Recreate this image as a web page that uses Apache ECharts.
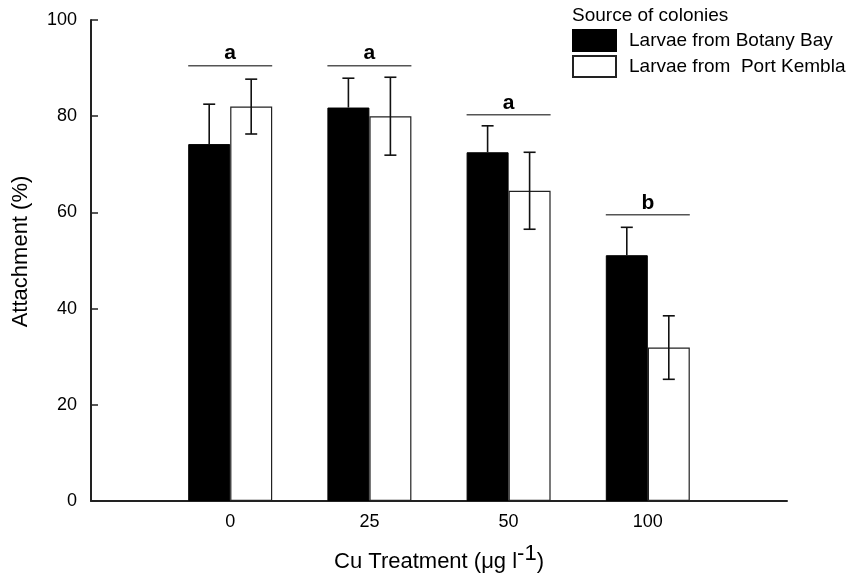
<!DOCTYPE html>
<html>
<head>
<meta charset="utf-8">
<script src="https://cdn.jsdelivr.net/npm/echarts@6/dist/echarts.min.js"></script>
<style>
  html, body { margin: 0; padding: 0; background: #fff; }
  #chart { width: 859px; height: 580px; }
</style>
</head>
<body>
<div id="chart"></div>
<script>
// data
const treatments = ['0', '25', '50', '100'];
const botanyMean = [74.2, 81.8, 72.5, 51.1];
const botanyErr = [8.3, 6.1, 5.5, 5.8];
const kemblaMean = [82.0, 80.0, 64.5, 31.9];
const kemblaErr = [5.7, 8.1, 8.0, 6.6];
const sigLetters = ['a', 'a', 'a', 'b'];
const sigHeights = [90.5, 90.5, 80.3, 59.5];
const yTicks = [0, 20, 40, 60, 80, 100];

const FONT = 'Liberation Sans, Arial, sans-serif';
const chart = echarts.init(document.getElementById('chart'));

// empty slot on both ends so the four groups sit like in the figure
const categories = [''].concat(treatments, ['']);
const pad = arr => ['-'].concat(arr, ['-']);

function errData(mean, err) {
    return mean.map((m, i) => [i + 1, m, err[i]]);
}

// upperOnly: on the black bars only the top half shows
function errorBars(offset, upperOnly) {
    return function (params, api) {
        const mid = api.coord([api.value(0), api.value(1)]);
        const hi = api.coord([api.value(0), api.value(1) + api.value(2)]);
        const lo = api.coord([api.value(0), api.value(1) - api.value(2)]);
        const x = mid[0] + offset;
        const style = { stroke: '#111', lineWidth: 1.6 };
        const kids = [
            { type: 'line', shape: { x1: x, y1: hi[1], x2: x, y2: upperOnly ? mid[1] : lo[1] }, style: style },
            { type: 'line', shape: { x1: x - 6, y1: hi[1], x2: x + 6, y2: hi[1] }, style: style }
        ];
        if (!upperOnly) {
            kids.push({ type: 'line', shape: { x1: x - 6, y1: lo[1], x2: x + 6, y2: lo[1] }, style: style });
        }
        return { type: 'group', children: kids };
    };
}

const option = {
    animation: false,
    backgroundColor: '#fff',
    textStyle: { fontFamily: FONT, color: '#000' },
    title: {
        text: 'Source of colonies',
        left: 572,
        top: 6,
        padding: 0,
        textStyle: { fontSize: 19, fontWeight: 'normal', color: '#000', fontFamily: FONT }
    },
    legend: {
        orient: 'vertical',
        left: 572,
        top: 29,
        padding: 0,
        itemWidth: 43,
        itemHeight: 21,
        itemGap: 3,
        icon: 'rect',
        textStyle: { fontSize: 19, lineHeight: 21, color: '#000', padding: [0, 0, 0, 8], fontFamily: FONT },
        data: ['Larvae from Botany Bay', 'Larvae from  Port Kembla']
    },
    grid: { left: 91, right: 72, top: 20, bottom: 79, containLabel: false, outerBoundsMode: 'none' },
    xAxis: {
        type: 'category',
        data: categories,
        boundaryGap: false,
        axisLine: { lineStyle: { color: '#222', width: 2 } },
        axisTick: { show: false },
        axisLabel: { fontSize: 18, color: '#000', margin: 12 },
        name: 'Cu Treatment (μg l{sup|-1})',
        nameLocation: 'middle',
        nameGap: 42,
        nameTextStyle: {
            fontSize: 22, color: '#000',
            rich: { sup: { fontSize: 22, color: '#000', verticalAlign: 'bottom', padding: [0, 0, 15, 0] } }
        }
    },
    yAxis: {
        type: 'value',
        min: 0,
        max: 100,
        interval: 20,
        axisLine: { show: true, lineStyle: { color: '#222', width: 2 } },
        axisTick: { show: true, inside: true, length: 7, lineStyle: { color: '#222', width: 1.5 } },
        axisLabel: {
            fontSize: 18, color: '#000', margin: 14,
            formatter: v => yTicks.indexOf(v) >= 0 ? String(v) : ''
        },
        splitLine: { show: false },
        name: 'Attachment (%)',
        nameLocation: 'middle',
        nameGap: 59,
        nameTextStyle: { fontSize: 22, color: '#000', padding: [0, 0, 0, 18] }
    },
    series: [
        {
            name: 'Larvae from Botany Bay',
            type: 'bar',
            data: pad(botanyMean),
            barWidth: 42,
            barGap: '0%',
            itemStyle: { color: '#000', borderColor: '#000', borderWidth: 1 }
        },
        {
            name: 'Larvae from  Port Kembla',
            type: 'bar',
            data: pad(kemblaMean),
            barWidth: 42,
            barGap: '0%',
            itemStyle: { color: '#fff', borderColor: '#222', borderWidth: 1.2 }
        },
        {
            type: 'custom',
            data: errData(botanyMean, botanyErr),
            renderItem: errorBars(-21, true),
            z: 5,
            silent: true
        },
        {
            type: 'custom',
            data: errData(kemblaMean, kemblaErr),
            renderItem: errorBars(21, false),
            z: 5,
            silent: true
        },
        {
            type: 'custom',
            data: sigHeights.map((h, i) => [i + 1, h]),
            renderItem: function (params, api) {
                const p = api.coord([api.value(0), api.value(1)]);
                const letter = sigLetters[params.dataIndex];
                return {
                    type: 'group',
                    children: [
                        { type: 'line', shape: { x1: p[0] - 42, y1: p[1], x2: p[0] + 42, y2: p[1] },
                          style: { stroke: '#555', lineWidth: 1.5 } },
                        { type: 'text', x: p[0], y: p[1] - 12,
                          style: { text: letter, fontSize: 21, fontWeight: 'bold', fill: '#000',
                                   align: 'center', verticalAlign: 'middle', fontFamily: FONT } }
                    ]
                };
            },
            z: 5,
            silent: true
        }
    ]
};

chart.setOption(option);
</script>
</body>
</html>
